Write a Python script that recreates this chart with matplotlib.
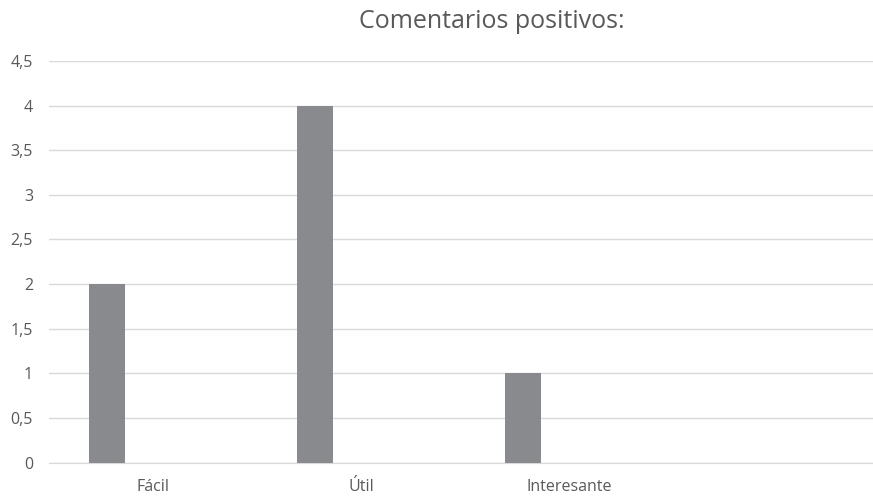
import numpy as np
import matplotlib.pyplot as plt

categories = ['Fácil', 'Útil', 'Interesante', '']
values = [2, 4, 1, 0]
yticks = [0, 0.5, 1, 1.5, 2, 2.5, 3, 3.5, 4, 4.5]

bar_color = '#898a8d'
text_color = '#595959'
grid_color = '#d9d9d9'

plt.rcParams['font.family'] = ['Open Sans', 'DejaVu Sans']

fig = plt.figure(figsize=(8.73, 4.98), dpi=100)
ax = fig.add_axes([49 / 873, 35.5 / 498, 824 / 873, 401.5 / 498])

x = np.arange(len(categories))
ax.bar(x[:3] - 0.222, values[:3], width=0.173, color=bar_color, zorder=3)

# last category is cut by the right edge of the picture
ax.set_xlim(-0.5, -0.5 + 824 / 208)
ax.set_ylim(0, 4.5)
ax.set_yticks(yticks)
ax.set_yticklabels([('%g' % v).replace('.', ',') for v in yticks])
ax.set_xticks(x)
ax.set_xticklabels(categories)

ax.grid(axis='y', color=grid_color, linewidth=1, zorder=0)
ax.tick_params(axis='both', length=0, colors=text_color, labelsize=11.5)
ax.tick_params(axis='y', pad=11.5)
ax.tick_params(axis='x', pad=12)
for side in ['top', 'right', 'left']:
    ax.spines[side].set_visible(False)
ax.spines['bottom'].set_color(grid_color)

fig.text(492 / 873, 1 - 22 / 498, 'Comentarios positivos:', ha='center', va='center',
         fontsize=18, color=text_color)

fig.savefig('out.png', dpi=100)
